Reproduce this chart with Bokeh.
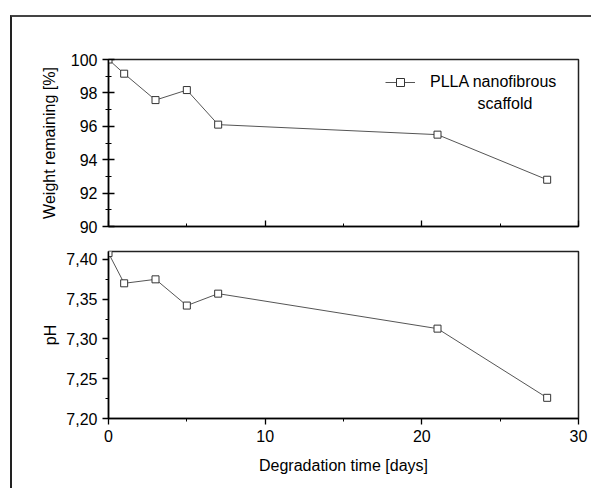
from bokeh.plotting import figure
from bokeh.layouts import column
from bokeh.models import Range1d, FixedTicker, CustomJSTickFormatter, Legend, LegendItem, Label
from bokeh.embed import file_html
from bokeh.resources import INLINE

# data
days = [0, 1, 3, 5, 7, 21, 28]
weight_remaining = [100.0, 99.15, 97.57, 98.17, 96.1, 95.5, 92.8]
ph_values = [7.408, 7.370, 7.375, 7.342, 7.357, 7.313, 7.226]
series_label_1 = "PLLA nanofibrous"
series_label_2 = "scaffold"
x_label = "Degradation time [days]"
y_label_top = "Weight remaining [%]"
y_label_bottom = "pH"
x_major = [0, 10, 20, 30]
x_minor = [5, 15, 25]
w_major = [90, 92, 94, 96, 98, 100]
w_minor = [91, 93, 95, 97, 99]
ph_major = [7.20, 7.25, 7.30, 7.35, 7.40]
ph_minor = [7.225, 7.275, 7.325, 7.375]

FONT = "Liberation Sans"
FS = "16px"
LINE_C = "#555555"
MARK_C = "#333333"


def style_axes(p):
    for ax in p.axis:
        ax.axis_line_color = "black"
        ax.axis_line_width = 1.5
        ax.major_tick_line_color = "black"
        ax.minor_tick_line_color = "black"
        ax.major_tick_line_width = 1.3
        ax.minor_tick_line_width = 1.0
        ax.major_label_text_font = FONT
        ax.major_label_text_font_size = FS
        ax.major_label_text_color = "black"
        ax.axis_label_text_font = FONT
        ax.axis_label_text_font_size = FS
        ax.axis_label_text_font_style = "normal"
        ax.axis_label_text_color = "black"
    p.grid.visible = False
    p.outline_line_color = "#222222"
    p.outline_line_width = 1.5
    p.background_fill_color = "white"
    p.border_fill_color = "white"


# top panel
p1 = figure(frame_width=470, frame_height=167, min_border_left=96, min_border_top=42,
            min_border_right=13, min_border_bottom=8,
            x_range=Range1d(0, 30), y_range=Range1d(90, 100),
            output_backend="svg", toolbar_location=None)
style_axes(p1)
p1.xaxis.ticker = FixedTicker(ticks=x_major, minor_ticks=x_minor)
p1.xaxis.formatter = CustomJSTickFormatter(code="return '';")
p1.xaxis.major_tick_in = 6
p1.xaxis.major_tick_out = 0
p1.xaxis.minor_tick_in = 3
p1.xaxis.minor_tick_out = 0
p1.xaxis.major_label_standoff = 0
p1.yaxis.ticker = FixedTicker(ticks=w_major, minor_ticks=w_minor)
p1.yaxis.major_tick_in = 6
p1.yaxis.major_tick_out = 6
p1.yaxis.minor_tick_in = 3
p1.yaxis.minor_tick_out = 3
p1.yaxis.major_label_standoff = 5
p1.yaxis.axis_label = y_label_top
p1.yaxis.axis_label_standoff = 10

l1 = p1.line(days, weight_remaining, line_color=LINE_C, line_width=1)
s1 = p1.scatter(days, weight_remaining, marker="square", size=7, fill_color="white",
                line_color=MARK_C, line_width=1)
legend = Legend(items=[LegendItem(label=series_label_1, renderers=[l1, s1])],
                location=(277, 134), padding=0, margin=0, spacing=0,
                glyph_width=30, glyph_height=20, label_standoff=15, label_height=20,
                border_line_color=None, background_fill_alpha=0,
                label_text_font=FONT, label_text_font_size=FS, label_text_color="black")
p1.add_layout(legend)
p1.add_layout(Label(x=369, y=123, x_units="screen", y_units="screen", text=series_label_2,
                    text_font=FONT, text_font_size=FS, text_baseline="middle",
                    text_color="black"))

# bottom panel
p2 = figure(frame_width=470, frame_height=167, min_border_left=96, min_border_top=17,
            min_border_right=13, min_border_bottom=70,
            x_range=Range1d(0, 30), y_range=Range1d(7.20, 7.41),
            output_backend="svg", toolbar_location=None)
style_axes(p2)
p2.xaxis.ticker = FixedTicker(ticks=x_major, minor_ticks=x_minor)
p2.xaxis.major_tick_in = 0
p2.xaxis.major_tick_out = 6
p2.xaxis.minor_tick_in = 0
p2.xaxis.minor_tick_out = 3
p2.xaxis.major_label_standoff = 5
p2.xaxis.axis_label = x_label
p2.xaxis.axis_label_standoff = 12
p2.yaxis.ticker = FixedTicker(ticks=ph_major, minor_ticks=ph_minor)
p2.yaxis.formatter = CustomJSTickFormatter(code="return tick.toFixed(2).replace('.', ',');")
p2.yaxis.major_tick_in = 0
p2.yaxis.major_tick_out = 6
p2.yaxis.minor_tick_in = 0
p2.yaxis.minor_tick_out = 3
p2.yaxis.major_label_standoff = 5
p2.yaxis.axis_label = y_label_bottom
p2.yaxis.axis_label_standoff = 4

p2.line(days, ph_values, line_color=LINE_C, line_width=1)
p2.scatter(days, ph_values, marker="square", size=7, fill_color="white",
           line_color=MARK_C, line_width=1)

layout = column(p1, p2, spacing=0,
                styles={"margin-left": "10px", "margin-top": "15px",
                        "border-left": "2px solid #222", "border-top": "2px solid #444"})

open("out.html", "w").write(file_html(layout, INLINE))
